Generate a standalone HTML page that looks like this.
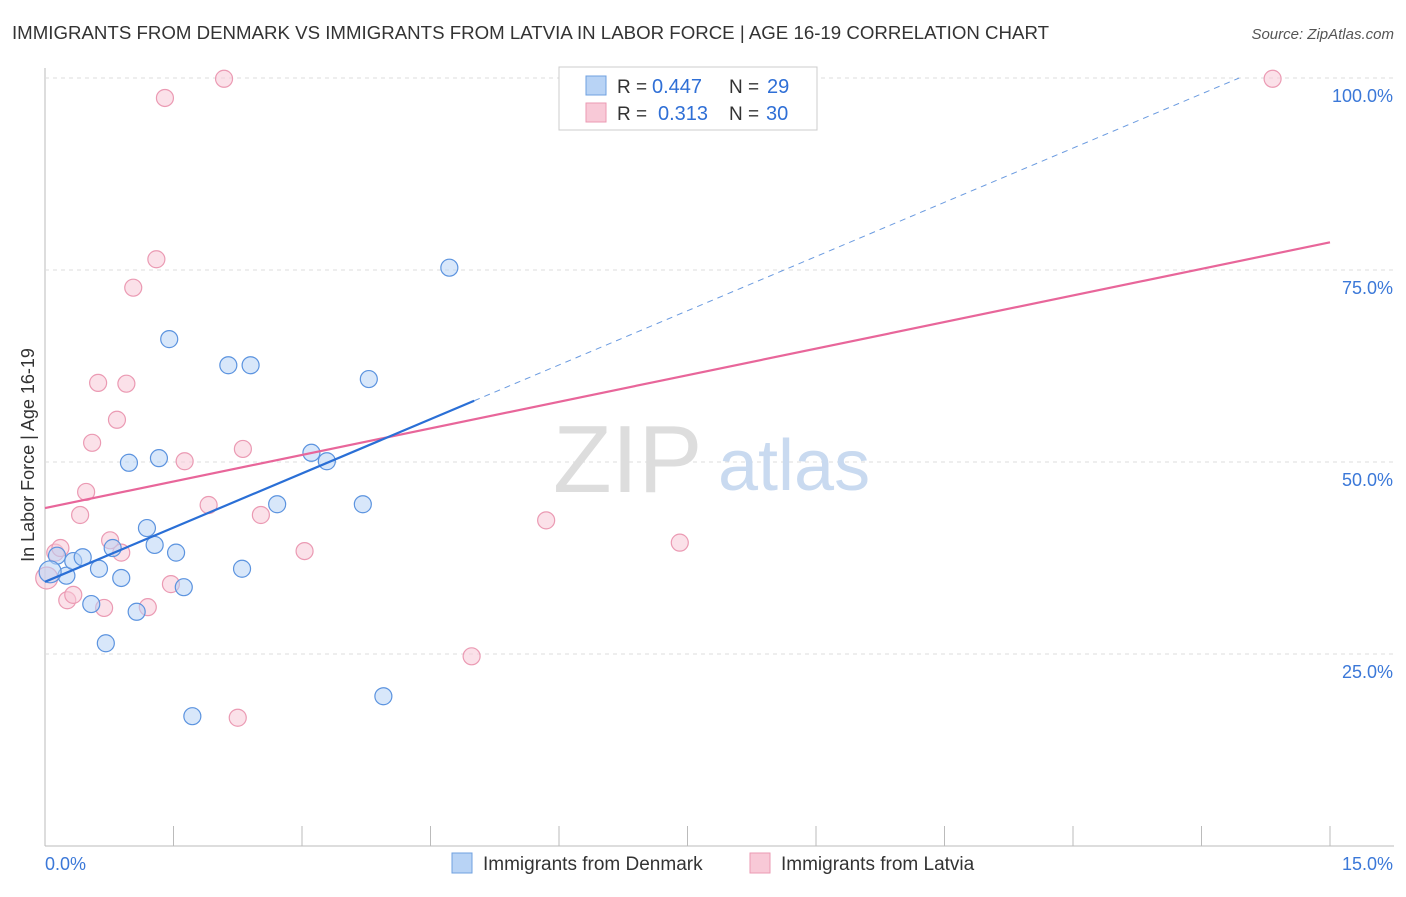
<!DOCTYPE html>
<html><head><meta charset="utf-8"><style>
body{margin:0;background:#fff;font-family:"Liberation Sans",sans-serif;}
svg text{font-family:"Liberation Sans",sans-serif;}
</style></head><body>
<svg id="chart" width="1406" height="892">
<text x="12" y="39" font-size="18" fill="#333" textLength="1037" lengthAdjust="spacingAndGlyphs">IMMIGRANTS FROM DENMARK VS IMMIGRANTS FROM LATVIA IN LABOR FORCE | AGE 16-19 CORRELATION CHART</text>
<text x="1394" y="39" font-size="15" fill="#555" font-style="italic" text-anchor="end">Source: ZipAtlas.com</text>
<g id="grid"></g>
<g><text x="553" y="492" font-size="96" fill="#ddd" font-family="Liberation Serif">ZIP</text><text x="718" y="490" font-size="72" fill="#c9daf0">atlas</text></g>
<g id="marks"></g>
<text transform="translate(34,455) rotate(-90)" font-size="18" fill="#333" text-anchor="middle">In Labor Force | Age 16-19</text>
<g>
<rect x="559" y="67" width="258" height="63" fill="#fff" stroke="#ccc"/>
<rect x="586" y="76" width="20" height="19" fill="#b8d3f5" stroke="#6fa0e0"/>
<rect x="586" y="103" width="20" height="19" fill="#f8c9d7" stroke="#eb9ab3"/>
<text x="617" y="93" font-size="19" fill="#333">R =</text>
<text x="652" y="93" font-size="20" fill="#2f6fd6">0.447</text>
<text x="729" y="93" font-size="19" fill="#333">N =</text>
<text x="767" y="93" font-size="20" fill="#2f6fd6">29</text>
<text x="617" y="120" font-size="19" fill="#333">R =</text>
<text x="658" y="120" font-size="20" fill="#2f6fd6">0.313</text>
<text x="729" y="120" font-size="19" fill="#333">N =</text>
<text x="766" y="120" font-size="20" fill="#2f6fd6">30</text>
</g>
<g>
<rect x="452" y="853" width="20" height="20" fill="#b8d3f5" stroke="#6fa0e0"/>
<text x="483" y="870" font-size="19" fill="#333">Immigrants from Denmark</text>
<rect x="750" y="853" width="20" height="20" fill="#f8c9d7" stroke="#eb9ab3"/>
<text x="781" y="870" font-size="19" fill="#333">Immigrants from Latvia</text>
</g>
</svg>
<script>
const xTickLabels=["0.0%","15.0%"];
const yTicks=[25,50,75,100];
const yTickLabels=["25.0%","50.0%","75.0%","100.0%"];
const denmarkX=[0.14,0.25,0.33,0.44,0.54,0.63,0.71,0.79,0.89,0.98,1.07,1.19,1.28,1.33,1.45,1.53,1.62,1.72,2.14,2.30,2.40,2.71,3.11,3.29,3.71,3.78,3.95,4.72,0.06];
const denmarkY=[37.8,35.2,37.1,37.6,31.5,36.1,26.4,38.8,34.9,49.9,30.5,41.4,39.2,50.5,66.0,38.2,33.7,16.9,62.6,36.1,62.6,44.5,51.2,50.1,44.5,60.8,19.5,75.3,35.7];
const latviaX=[0.02,0.12,0.18,0.26,0.33,0.41,0.48,0.55,0.62,0.69,0.76,0.84,0.89,0.95,1.03,1.20,1.30,1.40,1.47,1.63,1.91,2.09,2.25,2.31,2.52,3.03,4.98,5.85,7.41,14.33];
const latviaY=[34.9,38.2,38.8,32.0,32.7,43.1,46.1,52.5,60.3,31.0,39.8,55.5,38.2,60.2,72.7,31.1,76.4,97.4,34.1,50.1,44.4,99.9,16.7,51.7,43.1,38.4,24.7,42.4,39.5,99.9];
const denmarkTrend=[34.4,4.706];
const latviaTrend=[44.0,2.307];
const NS="http://www.w3.org/2000/svg";
const sx=v=>45+v/15*1285, sy=v=>846-v*7.68;
function mk(t,a,p){const e=document.createElementNS(NS,t);for(const k in a)e.setAttribute(k,a[k]);p.appendChild(e);return e;}
const g=document.getElementById('grid'), m=document.getElementById('marks');
const ax=mk('line',{x1:45,y1:68,x2:45,y2:846,stroke:'#bbb'},g);


const bx=mk('line',{x1:45,y1:846,x2:1394,y2:846,stroke:'#bbb'},g);


yTicks.forEach((v,i)=>{
 const l=mk('line',{x1:45,y1:sy(v),x2:1394,y2:sy(v),stroke:'#ddd','stroke-dasharray':'4,4'},g);
 
 
 const t=mk('text',{x:1393,y:sy(v)+24,'font-size':18,fill:'#3b78d8','text-anchor':'end'},g);t.textContent=yTickLabels[i];
 
 
});
for(let i=1;i<=10;i++){const x=sx(i*1.5);const l=mk('line',{x1:x,y1:826,x2:x,y2:846,stroke:'#bbb'},g);
 
 }
[[45,'start',0],[1393,'end',1]].forEach(([x,a,i])=>{const t=mk('text',{x:x,y:870,'font-size':18,fill:'#3b78d8','text-anchor':a},g);t.textContent=xTickLabels[i];
 
 });
function pts(X,Y,fill,stroke,name){X.forEach((x,i)=>{const c=mk('circle',{cx:sx(x),cy:sy(Y[i]),r:(x<0.1?11:8.5),fill:fill,'fill-opacity':0.55,stroke:stroke,'stroke-width':1.2},m);
 
 });}
pts(latviaX,latviaY,'#f8c9d7','#eb9ab3','latvia-point');
pts(denmarkX,denmarkY,'#b8d3f5','#5b93df','denmark-point');
const lt=mk('line',{x1:sx(0),y1:sy(latviaTrend[0]),x2:sx(15),y2:sy(latviaTrend[0]+15*latviaTrend[1]),stroke:'#e8669a','stroke-width':2.2},m);


const dEnd=(100-denmarkTrend[0])/denmarkTrend[1];
const dd=mk('line',{x1:sx(5.01),y1:sy(denmarkTrend[0]+5.01*denmarkTrend[1]),x2:sx(dEnd),y2:sy(100),stroke:'#6b9be0','stroke-width':1,'stroke-dasharray':'6,5'},m);


const dt=mk('line',{x1:sx(0),y1:sy(denmarkTrend[0]),x2:sx(5.01),y2:sy(denmarkTrend[0]+5.01*denmarkTrend[1]),stroke:'#2a6fd6','stroke-width':2.2},m);


</script>
</body></html>
